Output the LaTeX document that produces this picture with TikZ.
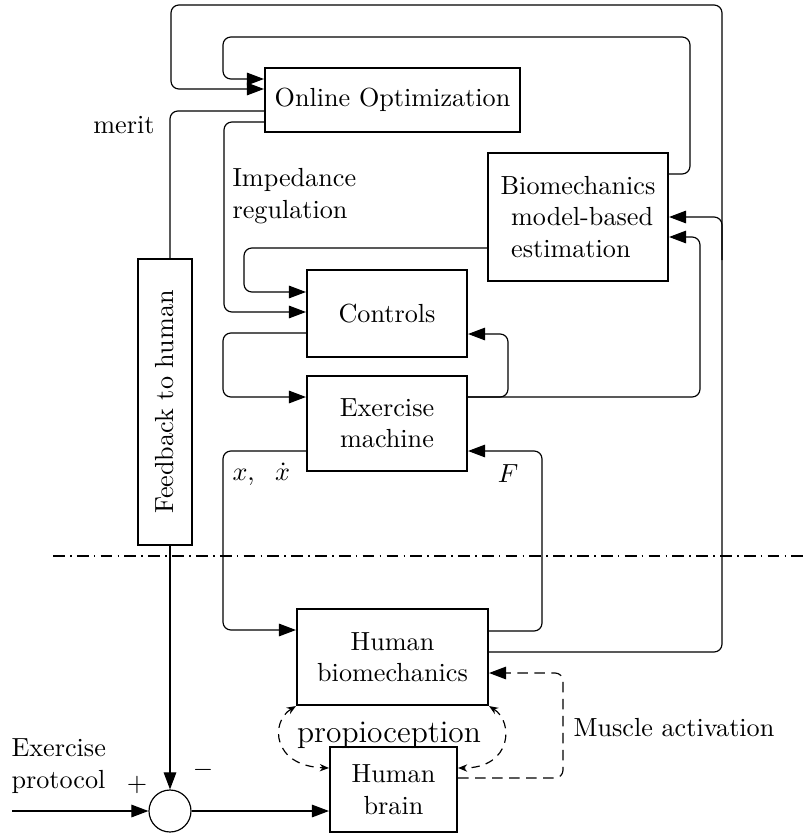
\documentclass[tikz,border=0pt]{standalone}
\usepackage{graphicx}
\usetikzlibrary{arrows.meta}
\begin{document}
\begin{tikzpicture}[x=0.382pt,y=-0.382pt,
  box/.style={draw,line width=0.8pt,inner sep=0pt,align=center},
  conn/.style={line width=0.45pt,rounded corners=3pt},
  dconn/.style={conn,dash pattern=on 4pt off 2.5pt},
  >={Triangle[length=6.5pt,width=4.8pt]},
  smallarr/.style={{Stealth[length=3.5pt,width=2.8pt]}-{Stealth[length=3.5pt,width=2.8pt]}},
  pconn/.style={line width=0.45pt,dash pattern=on 3.2pt off 2.4pt,smallarr},
  lbl/.style={inner sep=0pt}]
\useasboundingbox (0,0) rectangle (805,834);

% boxes
\node[box,minimum width=97.41pt,minimum height=24.45pt] (OO) at (392.5,100) {Online Optimization};
\node[box,minimum width=68.76pt,minimum height=48.9pt,align=left] (BIO) at (578,217)
  {Biomechanics\\\hspace*{4pt}model-based\\\hspace*{4pt}estimation};
\node[box,minimum width=61.12pt,minimum height=33.23pt] (CTRL) at (387,313.5) {Controls};
\node[box,minimum width=61.12pt,minimum height=36.29pt] (EM) at (387,423.5) {Exercise\\machine};
\node[box,minimum width=20.63pt,minimum height=109.25pt] (FB) at (165,402) {\rotatebox{90}{Feedback to human}};
\node[box,minimum width=72.96pt,minimum height=36.67pt] (HB) at (392.5,657) {Human\\biomechanics};
\node[box,minimum width=48.51pt,minimum height=32.47pt] (BR) at (393.5,789.5) {Human\\brain};
\node[draw,circle,minimum size=16.04pt,inner sep=0pt,line width=0.45pt] (C) at (170,811) {};

% coordinates
\coordinate (inL) at (12,811);
\coordinate (sepL) at (53,556);
\coordinate (sepR) at (805,556);

% connectors
\draw[conn,->] (BIO.east |- 0,174) -- (690,174) -- (690,37) -- (223,37) -- (223,79) -- (OO.west |- 0,79);
\draw[conn,->] (HB.east |- 0,652) -- (722,652) -- (722,5) -- (171,5) -- (171,89) -- (OO.west |- 0,89);
\draw[conn,->] (722,260) -- (722,217) -- (BIO.east |- 0,217);
\draw[conn] (OO.west |- 0,111) -- (170,111) -- (FB.north -| 170,0);
\draw[conn,->] (OO.west |- 0,122) -- (224,122) -- (224,312) -- (CTRL.west |- 0,312);
\draw[conn,->] (BIO.west |- 0,248) -- (244,248) -- (244,292) -- (CTRL.west |- 0,292);
\draw[conn,->] (CTRL.west |- 0,333) -- (223,333) -- (223,397) -- (EM.west |- 0,397);
\draw[conn,->] (EM.east |- 0,397) -- (508,397) -- (508,334) -- (CTRL.east |- 0,334);
\draw[conn,->] (EM.east |- 0,397) -- (700,397) -- (700,237) -- (BIO.east |- 0,237);
\draw[conn,->] (EM.west |- 0,451) -- (223,451) -- (223,630) -- (HB.west |- 0,630);
\draw[conn,->] (HB.east |- 0,631) -- (542,631) -- (542,451) -- (EM.east |- 0,451);
\draw[conn,->] (FB.south -| 170,0) -- (C.north);
\draw[conn,->] (inL) -- (C.west);
\draw[conn,->] (C.east) -- (BR.west |- C.east);
\draw[dconn,->] (BR.east |- 0,778) -- (563,778) -- (563,673) -- (HB.east |- 0,673);
\draw[pconn] (HB.south west) .. controls (270,722) and (272,766) .. (BR.west |- 0,768);
\draw[pconn] (HB.south east) .. controls (514,722) and (512,768) .. (BR.east |- 0,768);
\draw[line width=0.45pt,dash pattern=on 4.5pt off 2pt on 0.6pt off 2pt] (sepL) -- (sepR);

% labels
\node[lbl,anchor=east] (lmerit) at (155,125) {merit};
\node[lbl,anchor=north west,align=left] (limp) at (232,168) {Impedance\\regulation};
\node[lbl,anchor=west] (lx) at (232,474) {$x,\;\ \dot x$};
\node[lbl] (lF) at (508,474) {$F$};
\node[lbl,anchor=west,align=left] (lprot) at (11,766) {Exercise\\protocol};
\node[lbl] (lplus) at (137,785) {$+$};
\node[lbl] (lminus) at (203,770) {$-$};
\node[lbl,anchor=west] (lmus) at (573,728) {Muscle activation};
\node[lbl,font=\large] (lprop) at (389,735) {propioception};
\end{tikzpicture}
\end{document}
